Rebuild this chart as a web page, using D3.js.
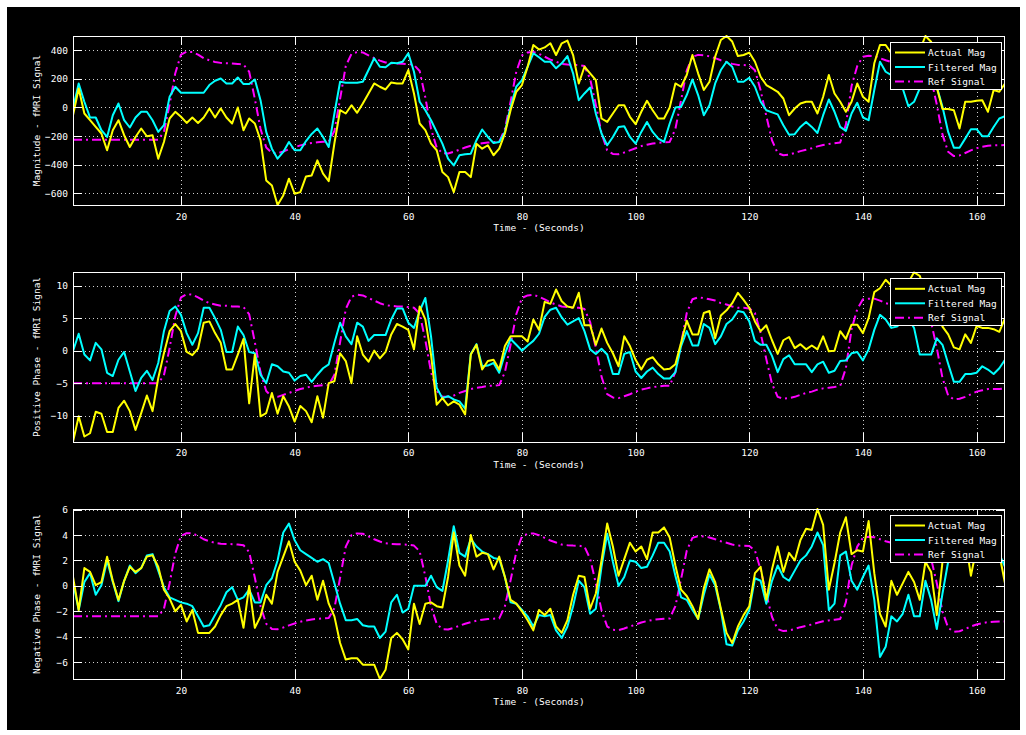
<!DOCTYPE html>
<html>
<head>
<meta charset="utf-8">
<script src="https://cdn.jsdelivr.net/npm/d3@7"></script>
<style>
  html, body { margin: 0; padding: 0; background: #ffffff; }
  svg { display: block; }
  text { font-family: "DejaVu Sans Mono", "Liberation Mono", monospace; font-size: 9.5px; fill: #ffffff; }
</style>
</head>
<body>
<svg id="fig" width="1026" height="735"></svg>
<script>
// Sample times (one scan per second)
const seconds = d3.range(1, 166);

// ---- Magnitude ----
const magActual = [
  -54, 133, -42, -89, -136, -182, -299, -159, -89, -194,
  -276, -206, -147, -201, -194, -358, -241, -77, -30, -65,
  -108, -70, -108, -70, -7, -70, -7, -70, -112, 0,
  -159, -77, -112, -229, -510, -545, -682, -615, -498, -603,
  -592, -482, -475, -370, -463, -515, -250, -19, -42, 16,
  -37, 28, 98, 168, 145, 126, 175, 168, 168, 262,
  98, -112, -159, -253, -299, -451, -487, -592, -451, -451,
  -487, -253, -288, -264, -334, -288, -182, -19, 110, 157,
  285, 437, 405, 420, 449, 367, 449, 468, 367, 168,
  285, 239, 192, -77, -101, -42, 16, 16, -65, -117,
  -30, 47, -19, -77, -77, 0, 168, 145, 227, 367,
  239, 122, 180, 356, 472, 500, 461, 360, 367, 384,
  320, 215, 157, 133, 110, 63, -54, -7, 28, 40,
  40, -42, 75, 227, 98, 40, -30, 40, 168, 75,
  40, 309, 437, 437, 379, 350, 250, 180, 220, 400,
  500, 460, 140, -10, -10, -19, -147, 40, 40, 47,
  51, -30, 122, 110, 168
];
const magFiltered = [
  -7, 168, 40, -70, -70, -159, -206, -54, 28, -89,
  -140, -70, -30, -30, -89, -171, -124, 75, 145, 103,
  103, 103, 103, 103, 157, 187, 203, 168, 168, 210,
  164, 164, 196, 51, -171, -288, -358, -311, -241, -299,
  -299, -235, -185, -147, -206, -276, -42, 180, 173, 173,
  173, 180, 262, 344, 285, 281, 313, 309, 320, 379,
  250, 40, -19, -89, -171, -253, -358, -405, -334, -327,
  -323, -229, -154, -206, -248, -241, -171, 5, 145, 192,
  285, 379, 351, 320, 320, 274, 309, 360, 239, 51,
  98, 140, -42, -182, -264, -206, -136, -131, -206, -253,
  -171, -101, -171, -218, -241, -112, 0, 5, 87, 196,
  87, -54, 16, 168, 262, 320, 285, 180, 180, 208,
  145, 40, -19, -34, -48, -124, -190, -187, -136, -101,
  -136, -178, -54, 56, -30, -136, -164, -42, 33, -70,
  -89, 122, 320, 250, 227, 200, 133, 9, 40, 133,
  250, 300, 145, 5, -171, -281, -281, -218, -152, -152,
  -201, -201, -136, -77, -61
];
const refMag = [
  -225, -225, -225, -225, -225, -225, -225, -225, -225, -225, -225, -225, -225, -225, -225,
  -225, -170, 20, 240, 370, 390, 388, 370, 345, 330, 318, 312, 310, 308, 305,
  300, 250, 60, -150, -280, -318, -320, -308, -292, -278, -265, -255, -248, -243, -240,
  -238, -165, 60, 290, 375, 388, 385, 365, 345, 328, 315, 310, 308, 306, 304,
  298, 255, 70, -150, -280, -320, -322, -310, -295, -280, -268, -258, -250, -245, -242,
  -240, -150, 40, 250, 365, 385, 388, 375, 355, 335, 320, 305, 300, 298, 297,
  290, 200, 20, -180, -300, -325, -327, -315, -300, -285, -270, -260, -252, -247, -243,
  -241, -150, 50, 260, 355, 368, 365, 358, 345, 330, 318, 305, 298, 297, 295,
  260, 120, -60, -230, -320, -334, -330, -318, -305, -295, -285, -272, -262, -255, -250,
  -245, -120, 150, 290, 355, 362, 360, 345, 330, 318, 310, 305, 302, 300, 298,
  285, 200, 20, -190, -310, -340, -335, -318, -300, -285, -275, -268, -265, -264, -263
];

// ---- Positive phase ----
const posActual = [
  -14.0, -10.1, -13.2, -12.7, -9.4, -9.7, -12.5, -12.5, -8.8, -7.7,
  -9.3, -12.2, -9.6, -6.9, -9.3, -4.2, -0.4, 3.0, 4.1, 3.0,
  -0.2, -0.7, 0.3, 4.3, 4.5, 2.7, 1.2, -2.9, -2.9, -0.6,
  1.8, -8.1, -0.6, -10.1, -9.6, -6.5, -9.7, -7.0, -8.6, -10.9,
  -8.5, -9.3, -11.0, -7.0, -10.3, -5.0, -4.7, -0.4, -1.6, -5.0,
  2.2, -0.6, -1.7, 0.0, -1.2, -0.2, 2.5, 4.1, 3.7, 3.2,
  0.2, 6.8, 4.8, -0.6, -8.3, -7.3, -8.4, -7.8, -8.3, -9.8,
  -0.6, 0.9, -2.9, -1.6, -1.4, -2.9, 0.7, 2.2, 2.2, 2.2,
  1.4, 4.8, 3.2, 7.5, 7.2, 9.4, 7.6, 6.8, 6.6, 8.9,
  3.9, 3.9, 0.9, 3.4, 1.2, -0.4, -2.4, 2.2, 0.7, -1.4,
  -2.9, -1.4, -1.0, -2.1, -2.9, -2.8, -2.1, 1.2, 4.6, 2.5,
  2.5, 5.8, 6.1, 1.9, 5.4, 6.2, 7.3, 8.9, 7.8, 6.6,
  4.5, 3.0, 3.9, 1.6, -0.5, 1.6, 2.1, 0.4, 1.0, 0.2,
  0.8, 0.2, 2.2, -0.1, 0.0, 3.0, 1.8, 4.0, 4.0, 2.7,
  5.0, 9.0, 9.6, 10.9, 10.0, 9.0, 9.5, 10.5, 12.05, 11.5,
  9.0, 7.0, 5.5, 3.7, 2.5, 0.5, 0.2, 2.5, 1.2, 3.8,
  3.5, 3.5, 3.3, 2.9, 5.0
];
const posFiltered = [
  -0.1, 2.6, -0.6, -1.5, 1.2, 0.2, -3.4, -3.9, -1.4, -0.2,
  -3.2, -6.2, -4.2, -3.1, -4.5, -1.9, 3.0, 6.1, 6.8, 5.5,
  2.7, 0.9, 2.7, 6.6, 6.6, 5.0, 3.2, -0.2, -0.2, 3.7,
  2.4, -0.2, -0.4, -3.7, -5.0, -2.1, -2.4, -3.2, -3.4, -4.6,
  -3.9, -3.7, -4.8, -3.7, -2.7, -2.1, 1.2, 4.3, 2.2, 1.0,
  4.3, 3.7, 1.5, 2.4, 2.4, 2.4, 4.8, 6.5, 6.5, 4.3,
  3.5, 6.1, 8.1, 2.2, -5.7, -7.3, -7.0, -7.5, -7.8, -8.9,
  -0.5, 1.0, -2.4, -2.3, -1.9, -3.4, -0.5, 1.8, 0.9, 0.0,
  0.8, 1.5, 2.6, 5.2, 6.3, 6.6, 5.1, 4.0, 4.5, 5.0,
  3.0, 0.2, -0.5, 0.3, -0.6, -3.6, -3.6, -0.5, -0.2, -3.2,
  -4.2, -3.2, -2.6, -3.6, -4.3, -4.3, -3.3, 0.7, 3.0, 0.8,
  0.8, 4.1, 3.5, 1.0, 2.2, 4.1, 4.8, 6.1, 5.9, 4.5,
  1.5, 0.9, 0.9, -0.8, -3.3, -1.3, -0.7, -2.1, -2.1, -2.1,
  -3.3, -2.1, -1.7, -3.4, -3.1, -1.6, -1.5, -0.4, -0.2, -1.5,
  0.2, 3.2, 5.5, 4.8, 3.5, 3.7, 4.5, 5.0, 3.5, -0.6,
  -0.6, -0.6, 1.9, 0.9, -2.0, -4.8, -4.8, -3.6, -3.6, -3.4,
  -2.4, -2.9, -3.6, -2.7, -1.4
];
const refPos = [
  -5.0, -5.0, -5.0, -5.0, -5.0, -5.0, -5.0, -5.0, -5.0, -5.0, -5.0, -5.0, -5.0, -5.0, -5.0,
  -5.0, -3.8, 0.4, 5.3, 8.2, 8.7, 8.6, 8.2, 7.7, 7.3, 7.1, 6.9, 6.9, 6.8, 6.8,
  6.7, 5.6, 1.3, -3.3, -6.2, -7.1, -7.1, -6.8, -6.5, -6.2, -5.9, -5.7, -5.5, -5.4, -5.3,
  -5.3, -3.7, 1.3, 6.4, 8.3, 8.6, 8.5, 8.1, 7.7, 7.3, 7.0, 6.9, 6.8, 6.8, 6.7,
  6.6, 5.7, 1.6, -3.3, -6.2, -7.1, -7.1, -6.9, -6.5, -6.2, -5.9, -5.7, -5.6, -5.4, -5.4,
  -5.3, -3.3, 0.9, 5.6, 8.1, 8.5, 8.6, 8.3, 7.9, 7.4, 7.1, 6.8, 6.7, 6.6, 6.6,
  6.4, 4.4, 0.4, -4.0, -6.7, -7.2, -7.3, -7.0, -6.7, -6.3, -6.0, -5.8, -5.6, -5.5, -5.4,
  -5.4, -3.3, 1.1, 5.8, 7.9, 8.2, 8.1, 7.9, 7.7, 7.3, 7.1, 6.8, 6.6, 6.6, 6.5,
  5.8, 2.7, -1.3, -5.1, -7.1, -7.4, -7.3, -7.1, -6.8, -6.5, -6.3, -6.0, -5.8, -5.7, -5.6,
  -5.4, -2.7, 3.3, 6.4, 7.9, 8.0, 8.0, 7.7, 7.3, 7.1, 6.9, 6.8, 6.7, 6.7, 6.6,
  6.3, 4.4, 0.4, -4.2, -6.9, -7.5, -7.4, -7.1, -6.7, -6.3, -6.1, -5.9, -5.9, -5.9, -5.8
];

// ---- Negative phase ----
const negActual = [
  0.7, -1.9, 1.4, 1.1, 0.05, 0.3, 2.3, 0.4, -1.1, 0.4,
  1.5, 1.1, 1.4, 2.3, 2.4, 1.5, -0.3, -1.0, -2.0, -1.5,
  -2.8, -1.9, -3.7, -3.7, -3.7, -3.2, -2.3, -1.6, -1.4, -1.1,
  -3.3, 0.0, -3.3, -2.4, -0.7, -1.4, 1.1, 2.3, 3.5, 1.9,
  1.2, 0.05, 0.8, -1.1, 0.4, -1.4, -2.4, -4.5, -5.8, -5.7,
  -5.7, -6.2, -6.2, -6.2, -7.33, -6.6, -4.1, -3.7, -4.2, -5.0,
  -1.4, -3.0, -1.4, -1.3, -1.6, -1.7, 0.7, 4.2, 1.6, 0.8,
  4.0, 2.3, 2.6, 2.5, 1.3, 2.3, 0.7, -1.1, -1.4, -2.0,
  -2.7, -3.5, -1.9, -2.3, -1.8, -3.2, -3.7, -2.7, -0.7, 0.8,
  0.7, -1.8, -0.6, 2.0, 4.9, 3.1, 0.8, 2.1, 3.4, 2.7,
  3.1, 2.1, 4.2, 4.2, 4.6, 3.8, 1.6, -0.3, -0.8, -1.6,
  -2.6, -0.2, 1.3, 0.3, -1.8, -3.7, -4.5, -3.2, -2.3, -1.6,
  1.0, 1.5, -1.1, 1.3, 3.1, 1.1, 2.6, 2.0, 3.6, 4.5,
  4.4, 6.05, 4.8, -0.3, 1.8, 4.2, 5.4, 2.5, 2.8, 2.7,
  5.1, 1.0, -2.2, -3.2, 0.4, -0.7, 0.2, 1.1, 0.3, -1.1,
  1.9, 1.1, -2.3, 1.9, 3.0, 3.5, 2.5, 3.8, 0.8, 3.0,
  3.2, 3.0, 4.0, 2.5, 0.2
];
const negFiltered = [
  0.3, -1.9, 0.3, 1.0, -0.7, 0.05, 2.0, 0.3, -1.2, 0.4,
  1.6, 1.0, 1.4, 2.4, 2.5, 1.2, -0.1, -0.9, -1.1, -1.3,
  -1.4, -1.6, -2.4, -3.2, -3.1, -2.3, -1.5, -0.5, -0.1, -1.1,
  -0.9, -0.3, -1.3, -1.3, 0.05, 0.6, 2.0, 4.2, 4.9, 3.6,
  2.8, 2.5, 2.2, 1.9, 2.1, 1.8, 0.2, -1.4, -2.7, -2.7,
  -2.6, -3.1, -3.2, -3.2, -4.1, -3.6, -1.3, -0.7, -2.1, -1.8,
  0.0, 0.0, 0.0, 0.8, -0.1, -0.4, 2.0, 4.7, 2.6, 2.3,
  3.7, 3.1, 2.7, 2.5, 2.2, 2.1, 0.7, -1.3, -1.4, -1.9,
  -2.4, -3.2, -2.3, -2.4, -2.3, -3.5, -4.1, -3.2, -1.6, 0.4,
  -0.1, -2.2, -1.8, 1.5, 4.1, 1.9, 0.0, 0.7, 2.0, 1.9,
  1.4, 1.5, 2.4, 3.4, 3.4, 2.7, 0.8, -0.9, -1.1, -1.9,
  -2.6, -0.7, 0.9, 0.05, -1.9, -4.6, -4.7, -3.5, -2.8, -1.9,
  0.6, 0.4, -1.4, 0.4, 1.6, 0.7, 0.4, 1.2, 2.0, 2.4,
  3.1, 4.2, 3.2, -1.9, -1.4, 2.4, 2.7, 0.4, -0.3, 0.7,
  1.6, -1.1, -5.6, -4.8, -2.4, -2.8, -2.2, -0.7, -2.4, -2.4,
  0.4, -1.1, -3.4, -0.6, 1.9, 3.0, 3.2, 2.5, 3.0, 2.5,
  3.0, 3.3, 3.0, 2.5, 1.5
];
const refNeg = [
  -2.40, -2.40, -2.40, -2.40, -2.40, -2.40, -2.40, -2.40, -2.40, -2.40, -2.40, -2.40, -2.40, -2.40, -2.40,
  -2.40, -1.81, 0.21, 2.56, 3.94, 4.15, 4.13, 3.94, 3.67, 3.51, 3.39, 3.32, 3.30, 3.28, 3.25,
  3.20, 2.66, 0.64, -1.60, -2.98, -3.39, -3.41, -3.28, -3.11, -2.96, -2.82, -2.72, -2.64, -2.59, -2.56,
  -2.53, -1.76, 0.64, 3.09, 3.99, 4.13, 4.10, 3.89, 3.67, 3.49, 3.35, 3.30, 3.28, 3.26, 3.24,
  3.17, 2.72, 0.75, -1.60, -2.98, -3.41, -3.43, -3.30, -3.14, -2.98, -2.85, -2.75, -2.66, -2.61, -2.58,
  -2.56, -1.60, 0.43, 2.66, 3.89, 4.10, 4.13, 3.99, 3.78, 3.57, 3.41, 3.25, 3.20, 3.17, 3.16,
  3.09, 2.13, 0.21, -1.92, -3.20, -3.46, -3.48, -3.35, -3.20, -3.04, -2.88, -2.77, -2.68, -2.63, -2.59,
  -2.57, -1.60, 0.53, 2.77, 3.78, 3.92, 3.89, 3.81, 3.67, 3.51, 3.39, 3.25, 3.17, 3.16, 3.14,
  2.77, 1.28, -0.64, -2.45, -3.41, -3.56, -3.51, -3.39, -3.25, -3.14, -3.04, -2.90, -2.79, -2.72, -2.66,
  -2.61, -1.28, 1.60, 3.09, 3.78, 3.86, 3.83, 3.67, 3.51, 3.39, 3.30, 3.25, 3.22, 3.20, 3.17,
  3.04, 2.13, 0.21, -2.02, -3.30, -3.62, -3.57, -3.39, -3.20, -3.04, -2.93, -2.85, -2.82, -2.81, -2.80
];

// Axis ticks and labels
const timeTicks = [20, 40, 60, 80, 100, 120, 140, 160];
const magTicks = [-600, -400, -200, 0, 200, 400];
const posTicks = [-10, -5, 0, 5, 10];
const negTicks = [-6, -4, -2, 0, 2, 4, 6];
const seriesNames = ["Actual Mag", "Filtered Mag", "Ref Signal"];
const xTitle = "Time - (Seconds)";

const panels = [
  { actual: magActual, filtered: magFiltered, ref: refMag, yTicks: magTicks,
    yTitle: "Magnitude - fMRI Signal", top: 36, bottom: 205 },
  { actual: posActual, filtered: posFiltered, ref: refPos, yTicks: posTicks,
    yTitle: "Positive Phase - fMRI Signal", top: 272.3, bottom: 441.7 },
  { actual: negActual, filtered: negFiltered, ref: refNeg, yTicks: negTicks,
    yTitle: "Negative Phase - fMRI Signal", top: 509, bottom: 679 }
];

const colors = { actual: "#ffff00", filtered: "#00ffff", ref: "#ff00ff" };
const refDash = "9,4,2,4";
const left = 73, right = 1005, tickLen = 9;

const svg = d3.select("#fig");

// figure background
svg.append("rect").attr("x", 7).attr("y", 7).attr("width", 1013).attr("height", 723).attr("fill", "#000");

const x = d3.scaleLinear().domain([1, 165]).range([left, right]);

panels.forEach((p, pi) => {
  const all = p.actual.concat(p.filtered, p.ref);
  const y = d3.scaleLinear().domain(d3.extent(all)).range([p.bottom, p.top]);
  const g = svg.append("g");

  // plot area
  g.append("rect").attr("x", left).attr("y", p.top)
    .attr("width", right - left).attr("height", p.bottom - p.top).attr("fill", "#000");

  // dotted grid
  const grid = g.append("g").attr("stroke", "#d0d0d0").attr("stroke-width", 1)
    .attr("stroke-dasharray", "1,3").attr("shape-rendering", "crispEdges");
  grid.selectAll("line.gx").data(timeTicks).join("line")
    .attr("x1", d => Math.round(x(d)) + 0.5).attr("x2", d => Math.round(x(d)) + 0.5)
    .attr("y1", p.top).attr("y2", p.bottom);
  grid.selectAll("line.gy").data(p.yTicks).join("line")
    .attr("x1", left).attr("x2", right)
    .attr("y1", d => Math.round(y(d)) + 0.5).attr("y2", d => Math.round(y(d)) + 0.5);

  // series lines
  const clipId = "clip" + pi;
  g.append("clipPath").attr("id", clipId).append("rect")
    .attr("x", left).attr("y", p.top - 1).attr("width", right - left).attr("height", p.bottom - p.top + 2);
  const line = d3.line().x((d, i) => x(seconds[i])).y(d => y(d));
  const lines = g.append("g").attr("clip-path", `url(#${clipId})`).attr("fill", "none")
    .attr("stroke-width", 2).attr("stroke-linejoin", "round");
  lines.append("path").datum(p.ref).attr("d", line).attr("stroke", colors.ref).attr("stroke-dasharray", refDash);
  lines.append("path").datum(p.filtered).attr("d", line).attr("stroke", colors.filtered);
  lines.append("path").datum(p.actual).attr("d", line).attr("stroke", colors.actual);

  // axes box and inward ticks
  const axes = g.append("g").attr("stroke", "#fff").attr("stroke-width", 1).attr("shape-rendering", "crispEdges");
  axes.append("rect").attr("x", left + 0.5).attr("y", Math.round(p.top) + 0.5)
    .attr("width", right - left - 1).attr("height", Math.round(p.bottom) - Math.round(p.top)).attr("fill", "none");
  timeTicks.forEach(t => {
    const xp = Math.round(x(t)) + 0.5;
    axes.append("line").attr("x1", xp).attr("x2", xp).attr("y1", p.bottom).attr("y2", p.bottom - tickLen);
    axes.append("line").attr("x1", xp).attr("x2", xp).attr("y1", p.top).attr("y2", p.top + tickLen);
  });
  p.yTicks.forEach(v => {
    const yp = Math.round(y(v)) + 0.5;
    axes.append("line").attr("x1", left).attr("x2", left + tickLen).attr("y1", yp).attr("y2", yp);
    axes.append("line").attr("x1", right).attr("x2", right - tickLen).attr("y1", yp).attr("y2", yp);
  });

  // tick labels via d3 axes (labels only)
  const xAxis = d3.axisBottom(x).tickValues(timeTicks).tickSize(0).tickPadding(8).tickFormat(d3.format("d"));
  g.append("g").attr("transform", `translate(0,${p.bottom})`).call(xAxis)
    .call(s => s.select(".domain").remove())
    .selectAll("text").attr("fill", "#fff").style("font-family", null).style("font-size", null)
    .attr("font-family", null);
  const yAxis = d3.axisLeft(y).tickValues(p.yTicks).tickSize(0).tickPadding(5).tickFormat(d3.format("d"));
  g.append("g").attr("transform", `translate(${left},0)`).call(yAxis)
    .call(s => s.select(".domain").remove())
    .selectAll("text").attr("fill", "#fff");
  g.selectAll(".tick text").attr("font-family", null).attr("font-size", null);

  // axis titles
  g.append("text").attr("x", (left + right) / 2).attr("y", p.bottom + 26)
    .attr("text-anchor", "middle").text(xTitle);
  g.append("text").attr("transform", `translate(40,${(p.top + p.bottom) / 2}) rotate(-90)`)
    .attr("text-anchor", "middle").text(p.yTitle);

  // legend
  const lx = 890, ly = p.top + 5.5, lw = 111, lh = 47;
  const leg = g.append("g");
  leg.append("rect").attr("x", lx + 0.5).attr("y", Math.round(ly) + 0.5).attr("width", lw).attr("height", lh)
    .attr("fill", "#000").attr("stroke", "#fff").attr("shape-rendering", "crispEdges");
  const keys = ["actual", "filtered", "ref"];
  keys.forEach((k, i) => {
    const yy = ly + 11 + i * 14.5;
    leg.append("line").attr("x1", lx + 5).attr("x2", lx + 35).attr("y1", yy).attr("y2", yy)
      .attr("stroke", colors[k]).attr("stroke-width", 2)
      .attr("stroke-dasharray", k === "ref" ? refDash : null);
    leg.append("text").attr("x", lx + 38).attr("y", yy + 3.5).text(seriesNames[i]);
  });
});
</script>
</body>
</html>
